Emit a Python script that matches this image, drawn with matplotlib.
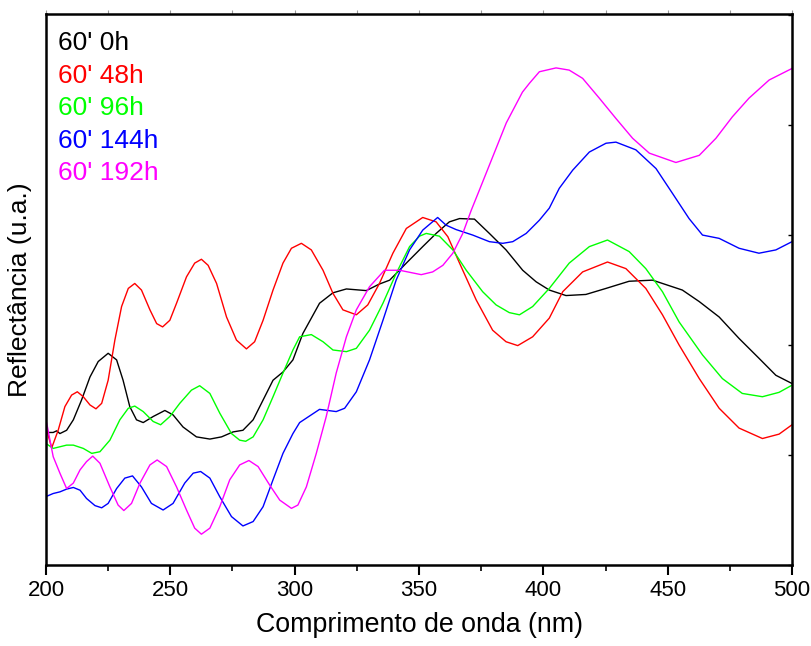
import matplotlib
matplotlib.use("Agg")
import matplotlib.pyplot as plt
from matplotlib.ticker import MultipleLocator

plt.rcParams['font.family'] = ['Liberation Sans', 'DejaVu Sans']

# Reflectance spectra (arbitrary units) after different ageing times
wl_0h = [200.3, 202.9, 204.3, 205.6, 208.3, 211.0, 214.3, 217.7, 221.0, 225.0,
         228.4, 231.0, 233.7, 236.4, 239.1, 243.1, 247.8, 251.1, 255.1, 260.5,
         265.9, 270.6, 275.2, 279.2, 283.3, 287.3, 291.3, 295.3, 299.3, 303.3,
         310.0, 315.4, 320.8, 328.8, 334.1, 338.2, 344.9, 351.5, 356.9, 362.2,
         366.3, 372.3, 378.3, 385.0, 391.7, 397.1, 402.4, 409.1, 417.1, 425.2,
         434.5, 443.9, 455.9, 462.7, 470.7, 478.7, 486.7, 493.5, 500.0]
r_0h = [24.1, 24.1, 24.4, 23.9, 24.5, 26.4, 30.0, 34.2, 37.0, 38.5,
        37.3, 33.6, 28.8, 26.4, 25.9, 27.0, 28.1, 27.3, 25.1, 23.3,
        22.9, 23.3, 24.2, 24.5, 26.4, 30.0, 33.6, 35.1, 37.3, 42.1,
        47.6, 49.5, 50.2, 49.9, 51.1, 51.8, 54.9, 57.9, 60.3, 62.4,
        63.0, 62.9, 60.3, 57.3, 53.6, 51.5, 50.0, 49.0, 49.2, 50.3,
        51.6, 51.8, 50.0, 47.9, 45.1, 41.2, 37.6, 34.5, 33.0]

wl_48h = [200.3, 202.3, 204.9, 207.6, 210.3, 212.6, 215.0, 217.7, 220.1, 222.4,
          225.0, 227.7, 230.4, 233.1, 235.7, 238.4, 241.8, 244.5, 246.9, 249.8,
          252.5, 256.5, 259.8, 262.5, 265.2, 268.6, 272.6, 276.6, 280.6, 283.9,
          287.3, 291.3, 295.3, 298.7, 302.7, 306.7, 311.4, 315.4, 319.4, 324.8,
          329.4, 334.1, 339.5, 344.9, 351.5, 356.9, 361.6, 366.3, 373.0, 379.6,
          385.0, 389.7, 395.7, 402.4, 407.8, 415.8, 425.8, 433.2, 441.2, 447.9,
          454.6, 462.7, 470.7, 478.7, 488.1, 494.8, 500.0]
r_48h = [24.5, 21.3, 24.5, 28.8, 30.9, 31.5, 30.6, 29.1, 28.4, 29.4,
         33.6, 40.9, 47.0, 50.3, 51.2, 50.0, 46.4, 43.9, 43.3, 44.5,
         47.6, 52.4, 54.9, 55.6, 54.5, 51.2, 45.1, 40.9, 39.3, 40.6,
         44.5, 50.0, 54.9, 57.6, 58.5, 57.3, 53.6, 49.4, 46.4, 45.5,
         47.3, 51.2, 56.7, 61.2, 63.2, 62.4, 59.7, 54.9, 48.2, 42.7,
         40.6, 39.9, 41.5, 44.9, 49.7, 53.3, 55.1, 53.9, 50.3, 45.5,
         40.0, 33.9, 28.5, 24.9, 23.0, 23.8, 25.5]

wl_96h = [200.3, 201.6, 202.9, 205.6, 208.3, 211.0, 215.0, 218.4, 221.7, 225.7,
          229.7, 233.1, 235.7, 239.1, 243.1, 246.1, 249.8, 253.8, 258.5, 261.8,
          265.9, 269.9, 274.6, 277.9, 280.3, 283.3, 287.3, 291.3, 295.3, 299.3,
          302.0, 306.7, 311.4, 315.4, 320.8, 324.8, 330.1, 335.5, 340.8, 346.2,
          350.2, 352.9, 358.2, 363.6, 369.0, 375.6, 381.0, 386.3, 390.4, 395.7,
          402.4, 410.4, 418.5, 425.8, 434.5, 441.2, 447.9, 454.6, 464.0, 472.0,
          480.0, 488.1, 494.8, 500.0]
r_96h = [22.0, 21.6, 21.2, 21.5, 21.8, 21.8, 21.2, 20.3, 20.6, 22.7,
         26.4, 28.5, 28.9, 27.9, 26.1, 25.5, 27.0, 29.4, 31.8, 32.6,
         31.2, 27.6, 23.9, 22.7, 22.5, 23.3, 26.4, 30.6, 34.9, 39.1,
         41.5, 41.9, 40.6, 39.1, 38.8, 39.4, 42.7, 47.6, 53.0, 57.9,
         59.8, 60.3, 59.8, 57.3, 53.6, 49.7, 47.3, 45.9, 45.5, 47.0,
         50.3, 54.9, 57.9, 59.1, 57.0, 53.9, 49.7, 44.2, 38.2, 33.9,
         31.2, 30.6, 31.4, 32.7]

wl_144h = [200.3, 202.9, 205.6, 208.3, 211.0, 213.7, 216.3, 219.7, 222.4, 225.0,
           228.4, 231.7, 234.8, 238.4, 242.4, 247.1, 251.1, 255.8, 259.2, 262.2,
           265.9, 269.9, 274.6, 279.2, 283.3, 287.3, 291.3, 295.3, 299.3, 302.0,
           310.0, 316.7, 320.1, 324.8, 330.1, 335.5, 340.8, 346.2, 351.5, 357.5,
           360.9, 364.9, 371.6, 378.3, 383.7, 387.7, 393.1, 398.4, 402.4, 406.4,
           411.8, 418.5, 425.2, 429.2, 437.2, 445.3, 451.9, 458.6, 464.0, 470.7,
           478.7, 486.7, 493.5, 500.0]
r_144h = [12.5, 13.0, 13.3, 13.8, 14.1, 13.6, 12.1, 10.8, 10.4, 11.2,
          13.9, 15.8, 16.2, 14.2, 11.2, 10.0, 11.2, 14.9, 16.7, 17.0,
          15.8, 12.4, 8.8, 7.1, 7.9, 10.6, 15.5, 20.3, 23.9, 25.9,
          28.3, 27.9, 28.5, 31.5, 37.3, 44.5, 51.8, 57.3, 60.9, 63.2,
          61.8, 61.0, 60.0, 58.8, 58.5, 58.8, 60.3, 62.7, 64.9, 68.5,
          71.8, 75.1, 76.7, 76.9, 75.5, 72.1, 67.6, 63.0, 60.0, 59.4,
          57.6, 56.7, 57.3, 58.8]

wl_192h = [200.3, 201.6, 202.9, 205.6, 208.3, 211.0, 213.7, 216.3, 218.8, 221.7,
           225.7, 229.0, 231.3, 234.4, 237.8, 241.8, 244.7, 248.5, 252.5, 256.5,
           259.8, 262.5, 265.9, 269.9, 273.9, 277.9, 281.6, 285.3, 290.0, 294.0,
           298.7, 301.3, 304.7, 308.7, 312.7, 316.7, 320.8, 324.8, 330.1, 336.1,
           342.2, 350.9, 355.5, 359.6, 363.6, 367.6, 371.0, 374.3, 385.1, 391.6,
           394.4, 398.4, 405.1, 410.4, 415.8, 422.5, 429.2, 435.9, 442.6, 453.3,
           462.7, 469.4, 476.0, 482.7, 490.8, 500.0]
r_192h = [25.8, 22.7, 19.7, 16.7, 13.9, 14.9, 17.3, 18.8, 19.8, 18.5,
          14.2, 10.9, 9.9, 11.2, 14.9, 18.2, 19.1, 17.9, 14.2, 10.0,
          6.7, 5.6, 6.7, 10.6, 15.5, 18.2, 19.0, 17.9, 14.5, 11.8,
          10.3, 10.9, 14.2, 20.3, 27.0, 34.9, 41.5, 46.4, 50.6, 53.6,
          53.6, 52.8, 53.3, 54.5, 56.7, 60.3, 64.5, 68.2, 80.4, 86.0,
          87.6, 89.7, 90.4, 90.0, 88.5, 84.9, 81.2, 77.6, 74.9, 73.2,
          74.5, 77.6, 81.5, 84.9, 88.2, 90.3]

labels = ["60' 0h", "60' 48h", "60' 96h", "60' 144h", "60' 192h"]
colors = ['#000000', '#ff0000', '#00ff00', '#0000ff', '#ff00ff']
series = [(wl_0h, r_0h), (wl_48h, r_48h), (wl_96h, r_96h),
          (wl_144h, r_144h), (wl_192h, r_192h)]

fig = plt.figure(figsize=(8.11, 6.46), dpi=100)
ax = fig.add_axes([0.0567, 0.1254, 0.9199, 0.8529])

for (x, y), c in zip(series, colors):
    ax.plot(x, y, color=c, lw=1.0, solid_joinstyle='round')

ax.set_xlim(200, 500)
ax.set_ylim(0, 100.2)

ax.xaxis.set_major_locator(MultipleLocator(50))
ax.xaxis.set_minor_locator(MultipleLocator(25))
ax.yaxis.set_major_locator(MultipleLocator(20))

ax.tick_params(axis='x', which='major', direction='out', length=7, width=1.5,
               labelsize=16, pad=4, top=False)
ax.tick_params(axis='x', which='minor', direction='out', length=4, width=1.2,
               top=False)
ax.tick_params(axis='y', which='major', left=False, right=True, direction='in',
               length=3, width=1.0, labelleft=False, labelright=False)

# short outward ticks along the top edge
secx = ax.secondary_xaxis('top')
secx.xaxis.set_major_locator(MultipleLocator(25))
secx.tick_params(direction='out', length=3, width=0.8, color='#999999',
                 labeltop=False)
secx.spines['top'].set_visible(False)

for sp in ax.spines.values():
    sp.set_linewidth(1.8)

ax.set_xlabel('Comprimento de onda (nm)', fontsize=19.3, labelpad=8)
ax.set_ylabel('Reflectância (u.a.)', fontsize=19, labelpad=10)

# coloured series labels, top-left
for i, (lab, c) in enumerate(zip(labels, colors)):
    ax.text(0.016, 0.9347 - i * 0.059, lab, color=c, fontsize=19,
            transform=ax.transAxes, ha='left', va='baseline')

fig.savefig('out.png', dpi=100)
